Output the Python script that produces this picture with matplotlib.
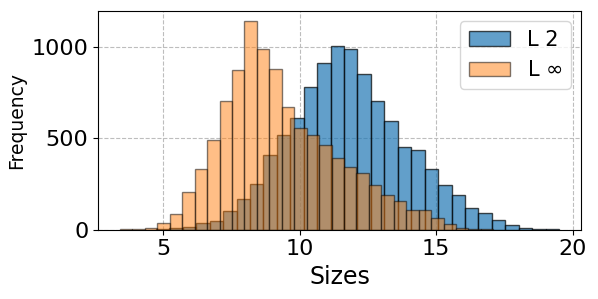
import numpy as np
import matplotlib.pyplot as plt

# histogram counts, 30 bins each
l2_start = 4.738
l2_width = 0.492
l2_counts = [4, 9, 16, 36, 45, 102, 166, 252, 408, 521, 613, 782, 913, 1005, 992,
             853, 705, 598, 455, 435, 331, 243, 188, 117, 89, 51, 24, 11, 4, 2]

linf_start = 3.425
linf_width = 0.4556
linf_counts = [1, 3, 10, 35, 86, 208, 335, 490, 705, 877, 1142, 990, 881, 675, 558,
               521, 465, 392, 346, 313, 243, 188, 155, 109, 106, 62, 33, 11, 3, 1]

labels = ['L 2', 'L $\\infty$']


def edges(start, width, n):
    return start + width * np.arange(n + 1)


fig = plt.figure(figsize=(5.98, 2.99), dpi=100)
ax = fig.add_axes([0.164, 0.232, 0.8076, 0.731])

e2 = edges(l2_start, l2_width, len(l2_counts))
einf = edges(linf_start, linf_width, len(linf_counts))

ax.hist(0.5 * (e2[:-1] + e2[1:]), bins=e2, weights=l2_counts,
        color='tab:blue', alpha=0.7, edgecolor='black', linewidth=1, label=labels[0])
ax.hist(0.5 * (einf[:-1] + einf[1:]), bins=einf, weights=linf_counts,
        color='tab:orange', alpha=0.5, edgecolor='black', linewidth=1, label=labels[1])

ax.grid(True, linestyle='--', color='#bdbdbd', linewidth=0.8)
ax.set_axisbelow(True)
ax.set_xticks([5, 10, 15, 20])
ax.set_yticks([0, 500, 1000])
ax.tick_params(labelsize=16)
ax.set_xlabel('Sizes', fontsize=17)
ax.set_ylabel('Frequency', fontsize=13.5)
ax.legend(loc='upper right', fontsize=15)

plt.savefig('out.png', dpi=100)
